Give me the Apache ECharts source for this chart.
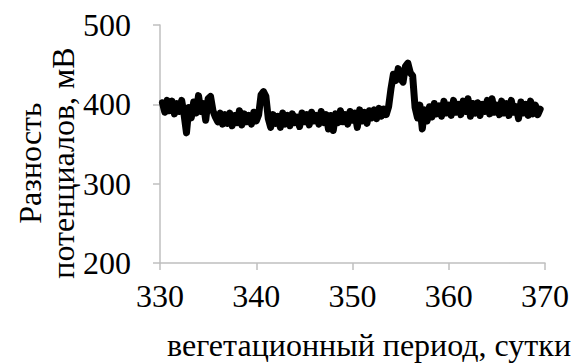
<!DOCTYPE html>
<html>
<head>
<meta charset="utf-8">
<script src="https://cdn.jsdelivr.net/npm/echarts@6/dist/echarts.min.js"></script>
<style>
  html, body { margin: 0; padding: 0; background: #fff; }
  #chart { width: 576px; height: 363px; }
</style>
</head>
<body>
<div id="chart"></div>
<script>
// сутки вегетационного периода
var days = [
  330.25, 330.5, 330.75, 331, 331.25, 331.5, 331.75, 332, 332.25, 332.5, 332.75,
  333, 333.25, 333.5, 333.75, 334, 334.25, 334.5, 334.75, 335, 335.25, 335.5, 335.75,
  336, 336.25, 336.5, 336.75, 337, 337.25, 337.5, 337.75, 338, 338.25, 338.5, 338.75,
  339, 339.25, 339.5, 339.75, 340, 340.25, 340.5, 340.75, 341, 341.25, 341.5, 341.75,
  342, 342.25, 342.5, 342.75, 343, 343.25, 343.5, 343.75, 344, 344.25, 344.5, 344.75,
  345, 345.25, 345.5, 345.75, 346, 346.25, 346.5, 346.75, 347, 347.25, 347.5, 347.75,
  348, 348.25, 348.5, 348.75, 349, 349.25, 349.5, 349.75, 350, 350.25, 350.5, 350.75,
  351, 351.25, 351.5, 351.75, 352, 352.25, 352.5, 352.75, 353, 353.25, 353.5, 353.75,
  354, 354.25, 354.5, 354.75, 355, 355.25, 355.5, 355.75, 356, 356.25, 356.5, 356.75,
  357, 357.25, 357.5, 357.75, 358, 358.25, 358.5, 358.75, 359, 359.25, 359.5, 359.75,
  360, 360.25, 360.5, 360.75, 361, 361.25, 361.5, 361.75, 362, 362.25, 362.5, 362.75,
  363, 363.25, 363.5, 363.75, 364, 364.25, 364.5, 364.75, 365, 365.25, 365.5, 365.75,
  366, 366.25, 366.5, 366.75, 367, 367.25, 367.5, 367.75, 368, 368.25, 368.5, 368.75,
  369, 369.25, 369.5
]
// разность потенциалов, мВ
var mv = [
  402, 390, 405, 392, 404, 388, 401, 391, 405, 387, 364,
  396, 383, 403, 389, 411, 391, 401, 380, 407, 410, 392, 384,
  378, 389, 375, 387, 376, 389, 373, 386, 377, 392, 374, 388,
  378, 386, 375, 390, 379, 387, 412, 416, 410, 382, 371, 387,
  376, 385, 371, 389, 375, 386, 373, 388, 377, 384, 372, 389,
  378, 387, 374, 390, 379, 386, 375, 391, 377, 387, 369, 386,
  367, 388, 377, 392, 378, 387, 375, 391, 380, 389, 371, 393,
  379, 390, 376, 392, 383, 393, 382, 395, 385, 394, 387, 397,
  420, 438, 430, 445, 432, 428, 448, 452, 440, 436, 396, 383,
  399, 369, 393, 379, 397, 384, 401, 388, 398, 385, 404, 389,
  399, 386, 405, 390, 400, 387, 404, 391, 407, 385, 401, 389,
  402, 386, 400, 391, 405, 388, 407, 390, 399, 387, 404, 389,
  401, 386, 405, 390, 397, 382, 403, 389, 400, 386, 404, 388,
  399, 387, 394
]
var xTicks = [330, 340, 350, 360, 370]
var yTicks = [200, 300, 400, 500]

var chart = echarts.init(document.getElementById('chart'), null, { renderer: 'svg' })
var font = '"Liberation Serif", "Times New Roman", serif'
var axisGray = '#bfbfbf'

var option = {
  animation: false,
  grid: { left: 160, right: 31, top: 25, bottom: 100 },
  xAxis: {
    type: 'value',
    min: xTicks[0],
    max: xTicks[xTicks.length - 1],
    interval: 10,
    axisLine: { lineStyle: { color: axisGray, width: 1.5 } },
    axisTick: { show: true, length: 7, lineStyle: { color: axisGray, width: 1.5 } },
    axisLabel: { color: '#000', fontFamily: font, fontSize: 32, margin: 17 },
    splitLine: { show: false }
  },
  yAxis: {
    type: 'value',
    min: yTicks[0],
    max: yTicks[yTicks.length - 1],
    interval: 100,
    axisLine: { show: true, lineStyle: { color: axisGray, width: 1.5 } },
    axisTick: { show: true, length: 7, lineStyle: { color: axisGray, width: 1.5 } },
    axisLabel: { color: '#000', fontFamily: font, fontSize: 32, margin: 29 },
    splitLine: { show: false }
  },
  graphic: [
    {
      type: 'text',
      x: 46,
      y: 163,
      rotation: Math.PI / 2,
      style: {
        text: 'Разность\nпотенциалов, мВ',
        fontFamily: font,
        fontSize: 32,
        lineHeight: 33,
        fill: '#000',
        align: 'center',
        verticalAlign: 'middle'
      }
    },
    {
      type: 'text',
      x: 571,
      y: 345,
      style: {
        text: 'вегетационный период, сутки',
        fontFamily: font,
        fontSize: 32,
        fill: '#000',
        align: 'right',
        verticalAlign: 'middle'
      }
    }
  ],
  series: [{
    type: 'line',
    data: days.map(function (d, i) { return [d, mv[i]] }),
    showSymbol: false,
    lineStyle: { color: '#000', width: 7, join: 'round', cap: 'round' }
  }]
}
chart.setOption(option)
</script>
</body>
</html>
